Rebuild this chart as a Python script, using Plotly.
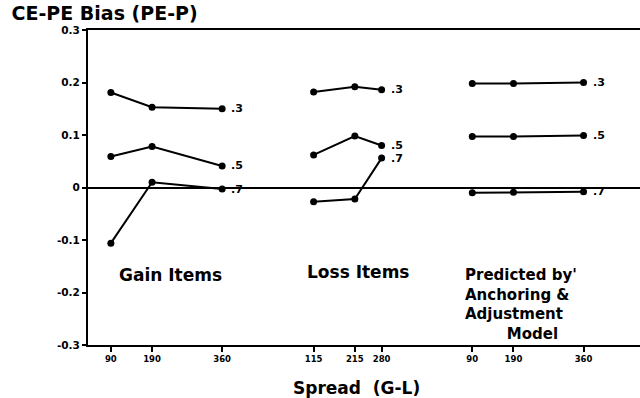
import plotly.graph_objects as go

# ---- data ----
gain_spread = [90, 190, 360]
loss_spread = [115, 215, 280]
pred_spread = [90, 190, 360]

gain_p3 = [0.181, 0.153, 0.150]
gain_p5 = [0.059, 0.078, 0.041]
gain_p7 = [-0.106, 0.010, -0.003]

loss_p3 = [0.182, 0.192, 0.186]
loss_p5 = [0.062, 0.098, 0.080]
loss_p7 = [-0.027, -0.022, 0.056]

pred_p3 = [0.198, 0.198, 0.200]
pred_p5 = [0.097, 0.097, 0.099]
pred_p7 = [-0.010, -0.009, -0.008]

series_labels = [".3", ".5", ".7"]
y_ticks = [0.3, 0.2, 0.1, 0, -0.1, -0.2, -0.3]
y_ticktext = ["0.3", "0.2", "0.1", "0", "-0.1", "-0.2", "-0.3"]

# panel offsets along the spread axis (gain, loss, predicted)
panel_offsets = [0, 467, 877]

panels = [
    (gain_spread, [gain_p3, gain_p5, gain_p7]),
    (loss_spread, [loss_p3, loss_p5, loss_p7]),
    (pred_spread, [pred_p3, pred_p5, pred_p7]),
]

fig = go.Figure()
annotations = []
tickvals, ticktext = [], []
label_font = dict(family="DejaVu Sans", size=11, color="black", weight="bold")

for (spread, series), off in zip(panels, panel_offsets):
    xs = [s + off for s in spread]
    tickvals += xs
    ticktext += [str(s) for s in spread]
    for vals, lab in zip(series, series_labels):
        fig.add_trace(go.Scatter(
            x=xs, y=vals, mode="lines+markers",
            line=dict(color="black", width=2),
            marker=dict(color="black", size=7, symbol="circle"),
            showlegend=False, hoverinfo="skip",
        ))
        annotations.append(dict(
            x=xs[-1], y=vals[-1], xref="x", yref="y", text=lab,
            showarrow=False, xanchor="left", yanchor="middle", xshift=7,
            font=label_font,
        ))

grp_font = dict(family="DejaVu Sans", size=17, color="black", weight="bold")
blk_font = dict(family="DejaVu Sans", size=15, color="black", weight="bold")
nb = "\u00a0"
annotations += [
    dict(x=234, y=-0.167, xref="x", yref="y", text="Gain Items", showarrow=False,
         xanchor="center", yanchor="middle", font=grp_font),
    dict(x=690, y=-0.161, xref="x", yref="y", text="Loss Items", showarrow=False,
         xanchor="center", yanchor="middle", font=grp_font),
    dict(x=944, y=-0.146, xref="x", yref="y",
         text="Predicted by'<br>Anchoring &<br>Adjustment<br>" + nb * 8 + "Model",
         showarrow=False, xanchor="left", yanchor="top", align="left", font=blk_font),
    dict(x=0.486, y=-0.137, xref="paper", yref="paper", text="Spread  (G-L)",
         showarrow=False, xanchor="center", yanchor="middle", font=grp_font),
]

fig.update_layout(
    width=640, height=398,
    margin=dict(l=88, r=0, t=30, b=53),
    paper_bgcolor="white", plot_bgcolor="white",
    title=dict(text="CE-PE Bias (PE-P)", x=0.018, xanchor="left", y=0.967,
               yanchor="middle",
               font=dict(family="DejaVu Sans", size=19, color="black", weight="bold")),
    annotations=annotations,
    showlegend=False,
)
fig.update_xaxes(
    range=[34.5, 1374], showgrid=False, zeroline=False,
    showline=True, linecolor="black", linewidth=2, mirror=True,
    ticks="outside", ticklen=5, tickwidth=1.5, tickcolor="black",
    tickvals=tickvals, ticktext=ticktext,
    tickfont=dict(family="DejaVu Sans", size=8.5, color="black", weight="bold"),
)
fig.update_yaxes(
    range=[-0.3, 0.3], showgrid=False,
    zeroline=True, zerolinecolor="black", zerolinewidth=1.5,
    showline=True, linecolor="black", linewidth=2, mirror=False,
    ticks="outside", ticklen=4, tickwidth=1.5, tickcolor="black",
    tickvals=y_ticks, ticktext=y_ticktext,
    tickfont=dict(family="DejaVu Sans", size=10.5, color="black", weight="bold"),
)

fig.write_html("out.html", config={"displayModeBar": False},
               post_script="document.body.style.margin='0px';")
